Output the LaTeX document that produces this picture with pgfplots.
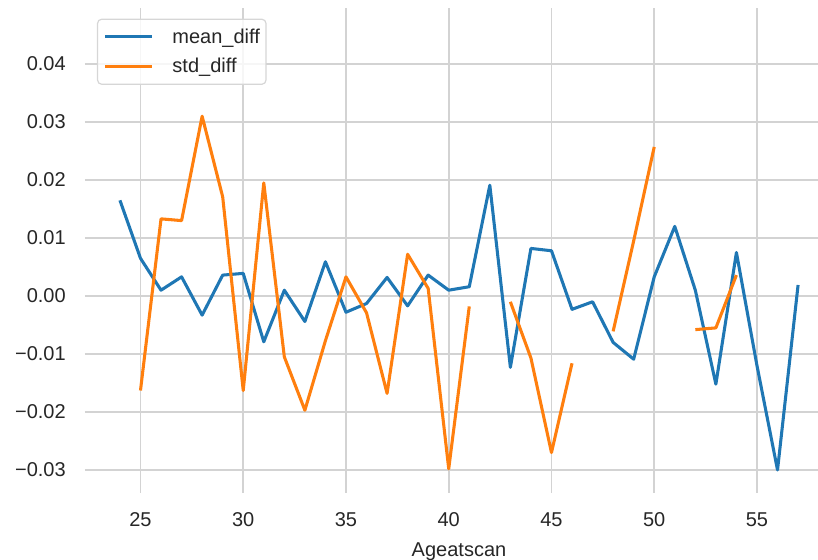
\documentclass[border=0pt]{standalone}
\usepackage{pgfplots}
\pgfplotsset{compat=1.18}
\usepackage{pgfplotstable}
\usepackage{fontspec}
\setmainfont{Liberation Sans}
\definecolor{tabblue}{HTML}{1F77B4}
\definecolor{taborange}{HTML}{FF7F0E}
\definecolor{gridgray}{HTML}{D3D3D3}
\definecolor{txtgray}{HTML}{262626}
\definecolor{leggray}{HTML}{D6D6D6}
\pgfplotstableread{
x mean std
24 0.0165 nan
25 0.0065 -0.0163
26 0.0010 0.0133
27 0.0033 0.0130
28 -0.0033 0.0310
29 0.0036 0.0171
30 0.0039 -0.0163
31 -0.0079 0.0195
32 0.0010 -0.0105
33 -0.0044 -0.0197
34 0.0059 -0.0077
35 -0.0028 0.0033
36 -0.0013 -0.0029
37 0.0032 -0.0168
38 -0.0017 0.0072
39 0.0036 0.0013
40 0.0010 -0.0298
41 0.0016 -0.0018
42 0.0191 nan
43 -0.0123 -0.0010
44 0.0082 -0.0107
45 0.0078 -0.0270
46 -0.0023 -0.0116
47 -0.0010 nan
48 -0.0080 -0.0061
49 -0.0109 0.0095
50 0.0033 0.0257
51 0.0120 nan
52 0.0010 -0.0058
53 -0.0152 -0.0055
54 0.0075 0.0036
55 -0.0120 nan
56 -0.0300 nan
57 0.0019 nan
}\datatable
\begin{document}
\begin{tikzpicture}
\useasboundingbox (-63.75pt,-50.25pt) rectangle (549.75pt,369.75pt);
\begin{axis}[
  at={(0,0)}, anchor=south west,
  scale only axis,
  width=561pt, height=363.75pt,
  xmin=22.3, xmax=58.7,
  ymin=-0.03397, ymax=0.04966,
  axis line style={draw=none},
  major tick length=0pt,
  grid=major,
  major grid style={color=gridgray, line width=1.2pt},
  xtick={25,30,35,40,45,50,55},
  xticklabels={25,30,35,40,45,50,55},
  ytick={-0.03,-0.02,-0.01,0,0.01,0.02,0.03,0.04},
  yticklabels={−0.03,−0.02,−0.01,0.00,0.01,0.02,0.03,0.04},
  tick label style={font=\fontsize{15}{18}\selectfont, text=txtgray, inner sep=0pt},
  xticklabel style={anchor=north, yshift=-14.25pt},
  yticklabel style={anchor=east, xshift=-14.25pt},
  xlabel={Ageatscan},
  xlabel style={at={(axis description cs:0.5,0)}, anchor=north, inner sep=0pt, yshift=-36.75pt, font=\fontsize{15}{18}\selectfont, text=txtgray},
  unbounded coords=jump,
  legend style={at={(axis description cs:0,1)}, anchor=north west, xshift=9pt, yshift=-8pt,
    draw=leggray, line width=0.9pt, rounded corners=3pt, fill=white, fill opacity=0.8, text opacity=1,
    inner xsep=4.5pt, inner ysep=7pt, row sep=10pt, column sep=14.25pt,
    font=\fontsize{15}{18}\selectfont, text=txtgray, nodes={inner sep=0pt}},
  legend cell align=left,
  legend image code/.code={\draw[#1, line width=2.4pt] (0pt,0pt) -- (35pt,0pt);},
]
\addplot[tabblue, line width=2.3pt, line join=round, no marks] table[x=x, y=mean] {\datatable};
\addlegendentry{mean\_diff\hspace{4.5pt}}
\addplot[taborange, line width=2.3pt, line join=round, no marks] table[x=x, y=std] {\datatable};
\addlegendentry{std\_diff}
\end{axis}
\end{tikzpicture}
\end{document}
